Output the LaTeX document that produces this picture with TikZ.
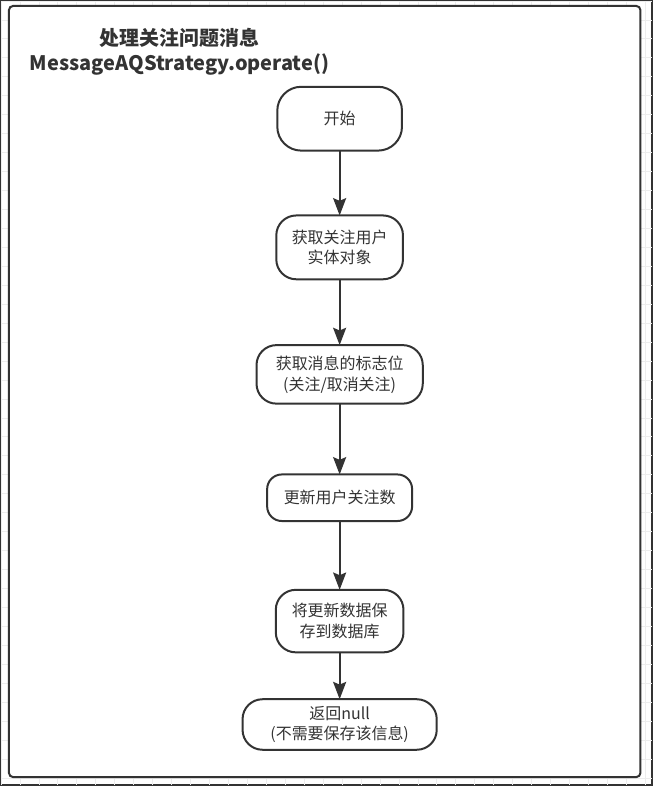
\documentclass[tikz,border=0pt]{standalone}
\usepackage{fontspec}
\setmainfont{Noto Sans CJK SC}
\usepackage{tikz}
\usetikzlibrary{arrows.meta,shapes,positioning}
\definecolor{ink}{HTML}{333333}
\definecolor{gridgray}{HTML}{EDEDED}

\begin{document}
\begin{tikzpicture}[
        x=0.75pt, y=-0.75pt,
        every node/.style={align=center, text=ink, font=\fontsize{12pt}{15.75pt}\selectfont},
        every path/.style={line width=1.5pt, draw=ink},
        stepbox/.style={draw, rounded corners=15pt, fill=white, inner sep=2pt, outer sep=0pt},
        flow/.style={-{Stealth[length=13pt,width=9.75pt,inset=2pt]}}
    ]

    % Background
    \useasboundingbox (0,0) rectangle (653,786);
    \draw[gridgray, line width=0.6pt, step=14.25pt] (0,0) grid (653,786);
    \coordinate (frameNW) at (8,5);
    \coordinate (frameSE) at (641,778);
    \draw[rounded corners=3pt, fill=white] (frameNW) rectangle (frameSE);

    % Title
    \node (title) at (179,51) [font=\fontsize{15pt}{19pt}\selectfont\bfseries] {处理关注问题消息\\ MessageAQStrategy.operate()};

    % Nodes
    \node (start) at (339.5,118) [stepbox, minimum width=93.75pt, minimum height=48pt, rounded corners=18pt] {开始};
    \node (user) [below=48.75pt of start, stepbox, minimum width=95.25pt, minimum height=48pt] {获取关注用户\\ 实体对象};
    \node (flag) [below=49.5pt of user, stepbox, minimum width=125pt, minimum height=44pt] {获取消息的标志位\\ (关注/取消关注)};
    \node (count) [below=53.25pt of flag, stepbox, minimum width=109pt, minimum height=35pt, rounded corners=11pt] {更新用户关注数};
    \node (save) [below=51.75pt of count, stepbox, minimum width=96pt, minimum height=47pt] {将更新数据保\\ 存到数据库};
    \node (ret) [below=35.25pt of save, stepbox, minimum width=146pt, minimum height=38pt] {返回null\\ (不需要保存该信息)};

    % Edges
    \draw[flow] (start) -- (user);
    \draw[flow] (user) -- (flag);
    \draw[flow] (flag) -- (count);
    \draw[flow] (count) -- (save);
    \draw[flow] (save) -- (ret);

\end{tikzpicture}
\end{document}
